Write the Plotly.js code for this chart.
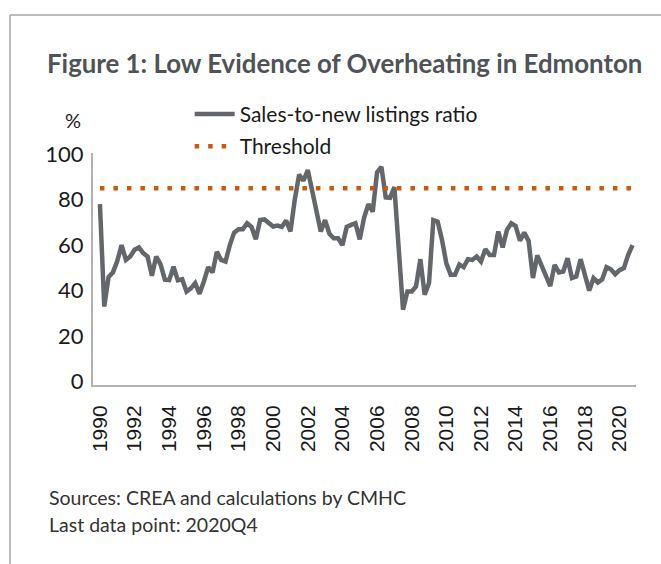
<!DOCTYPE html>
<html>
<head>
<meta charset="utf-8">
<script src="https://cdn.plot.ly/plotly-3.0.1.min.js"></script>
<style>
  html, body { margin: 0; padding: 0; background: #ffffff; }
  #chart { width: 661px; height: 564px; }
</style>
</head>
<body>
<div id="chart"></div>
<script>
// ---- Data ----
const startYear = 1990;
const endYear = 2020;
const quarters = [];
for (let y = startYear; y <= endYear; y++) {
  for (let q = 1; q <= 4; q++) quarters.push(y + 'Q' + q);
}

// Sales-to-new listings ratio (%), quarterly 1990Q1 - 2020Q4
const salesToNewListings = [
  78, 33, 46, 48, 53, 60, 53.5, 55, 58, 59,
  56.5, 55, 46.5, 55, 51.5, 44.8, 44.6, 50.5, 44.5, 45,
  39.6, 41, 43.3, 38.6, 44, 50.3, 48, 57, 53.5, 52.8,
  60, 65.5, 67, 67, 69.6, 68, 62.6, 71, 71.3, 69.6,
  68.2, 68.6, 68, 70.8, 66, 80, 91, 88.3, 93, 84,
  74.7, 66, 71, 65, 63, 63, 60, 68, 68.9, 69.6,
  62.5, 72, 78, 74.7, 92, 94.4, 81, 80.8, 85.5, 58,
  31.6, 39.6, 39.6, 41.8, 53.8, 38.2, 43.3, 71, 70.3, 62.3,
  52, 47, 47, 51.5, 50.3, 53.8, 53.5, 55, 52.8, 58.2,
  55.7, 55.7, 66, 59, 66.7, 69.6, 68.4, 62, 65.5, 61.8,
  45.5, 55.5, 50.8, 47, 42, 51.3, 48, 48.4, 54.2, 45.5,
  46.2, 53.8, 47, 40, 45.5, 43.6, 45, 50.3, 49.4, 47.2,
  49, 49.9, 55.7, 60
];

// Threshold (%)
const thresholdX = ['1990Q1', '2020Q4'];
const thresholdY = [85, 85];

// Tick labels
const tickYears = ['1990','1992','1994','1996','1998','2000','2002','2004',
                   '2006','2008','2010','2012','2014','2016','2018','2020'];
const tickQuarters = tickYears.map(y => y + 'Q1');
const yTicks = [0, 20, 40, 60, 80, 100];

// ---- Chart ----
const traces = [
  {
    type: 'scatter', mode: 'lines',
    name: 'Sales-to-new listings ratio',
    legendgroup: 'g1',
    x: quarters, y: salesToNewListings,
    line: { color: '#63666a', width: 4.5 }
  },
  {
    type: 'scatter', mode: 'lines',
    name: 'Threshold',
    legendgroup: 'g2',
    x: thresholdX, y: thresholdY,
    line: { color: '#c55a11', width: 4.5, dash: '4.5px,9px' }
  }
];

const textFont = 'Lato, "Open Sans", sans-serif';

const layout = {
  width: 661, height: 564,
  margin: { l: 93, r: 25, t: 153, b: 179 },
  paper_bgcolor: '#ffffff', plot_bgcolor: '#ffffff',
  title: {
    text: '<b>Figure 1: Low Evidence of Overheating in Edmonton</b>',
    font: { family: textFont, size: 25.8, color: '#4f5358' },
    xref: 'container', x: 47 / 661, xanchor: 'left',
    yref: 'container', y: 1 - 64 / 564, yanchor: 'middle'
  },
  showlegend: true,
  legend: {
    x: 0.178, xanchor: 'left',
    y: 1.255, yanchor: 'top',
    itemwidth: 40,
    traceorder: 'grouped',
    tracegroupgap: 2,
    font: { family: textFont, size: 21, color: '#1a1a1a' },
    bgcolor: 'rgba(0,0,0,0)',
    borderwidth: 0
  },
  xaxis: {
    type: 'category',
    range: [-1.6, 123.8],
    tickmode: 'array',
    tickvals: tickQuarters,
    ticktext: tickYears,
    tickangle: -90,
    ticks: '',
    ticklabelstandoff: 10,
    tickfont: { family: '"Liberation Sans", Arial, sans-serif', size: 21, color: '#1a1a1a' },
    showgrid: false, zeroline: false,
    showline: true, linecolor: '#b3b3b6', linewidth: 2
  },
  yaxis: {
    range: [-1.5, 100.5],
    tickmode: 'array',
    tickvals: yTicks,
    ticks: '',
    ticklabelstandoff: 3,
    tickfont: { family: textFont, size: 22, color: '#1a1a1a' },
    showgrid: false, zeroline: false,
    showline: true, linecolor: '#b3b3b6', linewidth: 2
  },
  annotations: [
    {
      text: '%', xref: 'paper', yref: 'paper',
      x: (73 - 93) / 543, y: (385 - 120) / 232,
      xanchor: 'center', yanchor: 'middle', showarrow: false,
      font: { family: textFont, size: 20, color: '#1a1a1a' }
    },
    {
      text: 'Sources: CREA and calculations by CMHC',
      xref: 'paper', yref: 'paper',
      x: (47 - 93) / 543, y: (385 - 497) / 232,
      xanchor: 'left', yanchor: 'middle', showarrow: false,
      font: { family: textFont, size: 19.5, color: '#333333' }
    },
    {
      text: 'Last data point: 2020Q4',
      xref: 'paper', yref: 'paper',
      x: (47 - 93) / 543, y: (385 - 524) / 232,
      xanchor: 'left', yanchor: 'middle', showarrow: false,
      font: { family: textFont, size: 19.5, color: '#333333' }
    }
  ],
  shapes: [
    {
      type: 'line', xref: 'paper', yref: 'paper',
      x0: (10 - 93) / 543, x1: (661 - 93) / 543,
      y0: (385 - 15) / 232, y1: (385 - 15) / 232,
      line: { color: '#a6a6a6', width: 1.5 }
    },
    {
      type: 'line', xref: 'paper', yref: 'paper',
      x0: (10 - 93) / 543, x1: (10 - 93) / 543,
      y0: (385 - 15) / 232, y1: (385 - 570) / 232,
      line: { color: '#a6a6a6', width: 1.5 }
    }
  ]
};

Plotly.newPlot('chart', traces, layout, { displayModeBar: false, staticPlot: true });
</script>
</body>
</html>
